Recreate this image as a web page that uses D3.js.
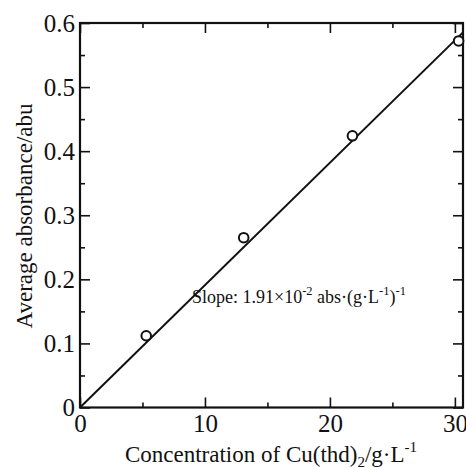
<!DOCTYPE html>
<html>
<head>
<meta charset="utf-8">
<script src="https://cdn.jsdelivr.net/npm/d3@7"></script>
<style>
  html, body { margin: 0; padding: 0; background: #fff; }
</style>
</head>
<body>
<svg id="chart" width="466" height="468"></svg>
<script>
// Calibration data: Cu(thd)2 concentration (g/L) vs. average absorbance
const concentration = [5.3, 13.1, 21.8, 30.3];
const absorbance = [0.112, 0.265, 0.424, 0.572];
const slope = 0.0191;            // fitted slope, abs·(g·L⁻¹)⁻¹
const xMajorTicks = [0, 10, 20, 30];
const xMinorTicks = [5, 15, 25];
const yMajorTicks = [0, 0.1, 0.2, 0.3, 0.4, 0.5, 0.6];
const yMinorTicks = [0.05, 0.15, 0.25, 0.35, 0.45, 0.55];
const xDomain = [0, 30.65];
const yDomain = [0, 0.6];

const SERIF = '"Liberation Serif", "DejaVu Serif", "Times New Roman", serif';
const INK = "#111";

const svg = d3.select("#chart");
const margin = { left: 80, top: 23, right: 3, bottom: 60.5 };
const W = 466 - margin.left - margin.right;
const H = 468 - margin.top - margin.bottom;

const x = d3.scaleLinear().domain(xDomain).range([0, W]);
const y = d3.scaleLinear().domain(yDomain).range([H, 0]);

const g = svg.append("g").attr("transform", `translate(${margin.left},${margin.top})`);

const fmtY = d => d === 0 ? "0" : d3.format(".1f")(d);

// Inward-pointing ticks on all four sides, serif labels
function styleAxis(sel) {
  sel.attr("font-family", null).attr("font-size", null);
  sel.select(".domain").remove();
  sel.selectAll(".tick line").attr("stroke", INK).attr("stroke-width", 1.6);
  sel.selectAll(".tick text")
    .style("font-family", SERIF).attr("font-size", 25).attr("fill", INK);
}

g.append("g").attr("transform", `translate(0,${H})`)
  .call(d3.axisBottom(x).tickValues(xMajorTicks).tickSize(-10).tickFormat(d3.format("d")))
  .call(styleAxis)
  .call(s => s.selectAll("text").attr("y", 24.5).attr("dy", 0));
g.append("g").attr("transform", `translate(0,${H})`)
  .call(d3.axisBottom(x).tickValues(xMinorTicks).tickSize(-5).tickFormat(""))
  .call(styleAxis);
g.append("g")
  .call(d3.axisTop(x).tickValues(xMajorTicks).tickSize(-10).tickFormat(""))
  .call(styleAxis);
g.append("g")
  .call(d3.axisTop(x).tickValues(xMinorTicks).tickSize(-5).tickFormat(""))
  .call(styleAxis);

g.append("g")
  .call(d3.axisLeft(y).tickValues(yMajorTicks).tickSize(-10).tickFormat(fmtY))
  .call(styleAxis)
  .call(s => s.selectAll("text").attr("x", -5));
g.append("g")
  .call(d3.axisLeft(y).tickValues(yMinorTicks).tickSize(-5).tickFormat(""))
  .call(styleAxis);
g.append("g").attr("transform", `translate(${W},0)`)
  .call(d3.axisRight(y).tickValues(yMajorTicks).tickSize(-10).tickFormat(""))
  .call(styleAxis);
g.append("g").attr("transform", `translate(${W},0)`)
  .call(d3.axisRight(y).tickValues(yMinorTicks).tickSize(-5).tickFormat(""))
  .call(styleAxis);

// Frame
g.append("rect").attr("x", 0).attr("y", 0).attr("width", W).attr("height", H)
  .attr("fill", "none").attr("stroke", INK).attr("stroke-width", 2.2);

// Fitted line through origin
const lineData = [xDomain[0], xDomain[1]].map(c => [c, slope * c]);
g.append("path")
  .datum(lineData)
  .attr("d", d3.line().x(d => x(d[0])).y(d => y(d[1])))
  .attr("fill", "none").attr("stroke", INK).attr("stroke-width", 2);

// Measured points
g.selectAll("circle.pt")
  .data(concentration.map((c, i) => [c, absorbance[i]]))
  .join("circle")
  .attr("class", "pt")
  .attr("cx", d => x(d[0])).attr("cy", d => y(d[1]))
  .attr("r", 4.8)
  .attr("fill", "#fff").attr("stroke", INK).attr("stroke-width", 2);

// Slope annotation
const ann = svg.append("text").attr("x", 192).attr("y", 303)
  .style("font-family", SERIF).attr("font-size", 18).attr("fill", INK);
ann.append("tspan").text("Slope: 1.91×10");
ann.append("tspan").attr("font-size", 12.5).attr("dy", -8).text("-2");
ann.append("tspan").attr("dy", 8).text(" abs·(g·L");
ann.append("tspan").attr("font-size", 12.5).attr("dy", -8).text("-1");
ann.append("tspan").attr("dy", 8).text(")");
ann.append("tspan").attr("font-size", 12.5).attr("dy", -8).text("-1");

// X-axis title
const xt = svg.append("text").attr("x", 271).attr("y", 462).attr("text-anchor", "middle")
  .style("font-family", SERIF).attr("font-size", 23).attr("fill", INK);
xt.append("tspan").text("Concentration of Cu(thd)");
xt.append("tspan").attr("font-size", 15).attr("dy", 5).text("2");
xt.append("tspan").attr("dy", -5).text("/g·L");
xt.append("tspan").attr("font-size", 15).attr("dy", -10).text("-1");

// Y-axis title
svg.append("text")
  .attr("transform", `translate(32,216) rotate(-90)`)
  .attr("text-anchor", "middle")
  .style("font-family", SERIF).attr("font-size", 23).attr("fill", INK)
  .text("Average absorbance/abu");
</script>
</body>
</html>
